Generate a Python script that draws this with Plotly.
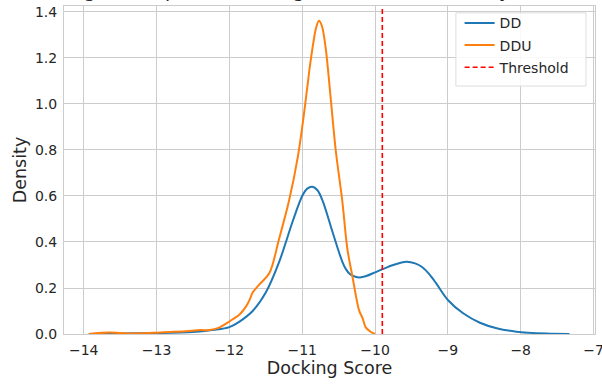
import plotly.graph_objects as go

# ---- data ----
dd_x = [-13.93, -13.5, -13.0, -12.5, -12.2, -12.0, -11.86, -11.68, -11.5, -11.32,
        -11.13, -11.0, -10.93, -10.86, -10.79, -10.72, -10.58, -10.45, -10.40, -10.35,
        -10.28, -10.21, -10.12, -10.0, -9.91, -9.75, -9.57, -9.45, -9.35, -9.25,
        -9.16, -9.0, -8.79, -8.56, -8.33, -8.06, -7.65, -7.33]
dd_y = [0.0, 0.002, 0.004, 0.009, 0.018, 0.03, 0.054, 0.10, 0.18, 0.31,
        0.49, 0.60, 0.632, 0.64, 0.625, 0.58, 0.44, 0.315, 0.282, 0.262,
        0.25, 0.246, 0.252, 0.268, 0.28, 0.30, 0.314, 0.307, 0.29, 0.258,
        0.22, 0.148, 0.09, 0.049, 0.025, 0.01, 0.002, 0.0]

ddu_x = [-13.93, -13.64, -13.4, -13.2, -12.95, -12.6, -12.4, -12.27, -12.14, -12.04,
         -11.95, -11.86, -11.77, -11.72, -11.68, -11.59, -11.45, -11.32, -11.18, -11.06,
         -10.97, -10.90, -10.85, -10.81, -10.77, -10.73, -10.68, -10.61, -10.54, -10.45,
         -10.38, -10.31, -10.22, -10.17, -10.13, -10.07, -10.0]
ddu_y = [0.0, 0.006, 0.002, 0.003, 0.007, 0.012, 0.017, 0.017, 0.028, 0.046,
         0.065, 0.085, 0.12, 0.15, 0.18, 0.215, 0.265, 0.41, 0.58, 0.77,
         0.97, 1.15, 1.26, 1.33, 1.362, 1.34, 1.25, 1.03, 0.80, 0.58,
         0.37, 0.25, 0.104, 0.068, 0.03, 0.012, 0.0]

threshold = -9.9

x_ticks = [-14, -13, -12, -11, -10, -9, -8, -7]
x_ticktext = ["\u221214", "\u221213", "\u221212", "\u221211", "\u221210", "\u22129", "\u22128", "\u22127"]
y_ticks = [0.0, 0.2, 0.4, 0.6, 0.8, 1.0, 1.2, 1.4]

title_text = "Ligand (Top-1%) Docking Score Distribution by Method"

FONT = "DejaVu Sans"
TXT = "#262626"
GRID = "#cccccc"

fig = go.Figure()
fig.add_trace(go.Scatter(x=dd_x, y=dd_y, mode="lines", name="DD", legendgroup="a",
                         line=dict(color="#1f77b4", width=2, shape="spline", smoothing=0.9)))
fig.add_trace(go.Scatter(x=ddu_x, y=ddu_y, mode="lines", name="DDU", legendgroup="b",
                         line=dict(color="#ff7f0e", width=2, shape="spline", smoothing=0.9)))
fig.add_trace(go.Scatter(x=[threshold, threshold], y=[0, 1.43], mode="lines", name="Threshold",
                         legendgroup="c",
                         line=dict(color="#ff0000", width=1.6, dash="5px,3px")))

# legend frame (matplotlib-style box)
fig.add_shape(type="rect", xref="paper", yref="paper", x0=0.738, x1=0.983, y0=0.756, y1=0.979,
              fillcolor="rgba(255,255,255,0.85)", line=dict(color="#dddddd", width=1), layer="above")

fig.add_annotation(text=title_text, xref="paper", yref="paper", x=0.497, y=1.0,
                   xanchor="center", yanchor="bottom", showarrow=False,
                   font=dict(family=FONT, size=19, color=TXT), yshift=3)

fig.update_layout(
    width=602, height=385,
    margin=dict(l=64, r=7, t=6, b=51),
    paper_bgcolor="white", plot_bgcolor="white",
    font=dict(family=FONT, size=14, color=TXT),
    legend=dict(x=0.745, y=0.996, xanchor="left", yanchor="top",
                bgcolor="rgba(0,0,0,0)", borderwidth=0,
                font=dict(family=FONT, size=14, color=TXT), tracegroupgap=1),
    xaxis=dict(range=[-14.27, -6.98], tickvals=x_ticks, ticktext=x_ticktext,
               showgrid=True, gridcolor=GRID, gridwidth=1, zeroline=False,
               showline=True, linecolor=GRID, linewidth=1, mirror=True, ticks="",
               tickfont=dict(size=14, color=TXT), ticklabelstandoff=3,
               ticklabeloverflow="allow", automargin=False,
               title=dict(text="Docking Score", font=dict(size=17.5, color=TXT), standoff=4)),
    yaxis=dict(range=[0, 1.426], tickvals=y_ticks, tickformat=".1f",
               showgrid=True, gridcolor=GRID, gridwidth=1, zeroline=False,
               showline=True, linecolor=GRID, linewidth=1, mirror=True, ticks="",
               tickfont=dict(size=14, color=TXT), ticklabelstandoff=3, automargin=False,
               title=dict(text="Density", font=dict(size=17.5, color=TXT), standoff=3)),
)

fig.write_html("out.html")
